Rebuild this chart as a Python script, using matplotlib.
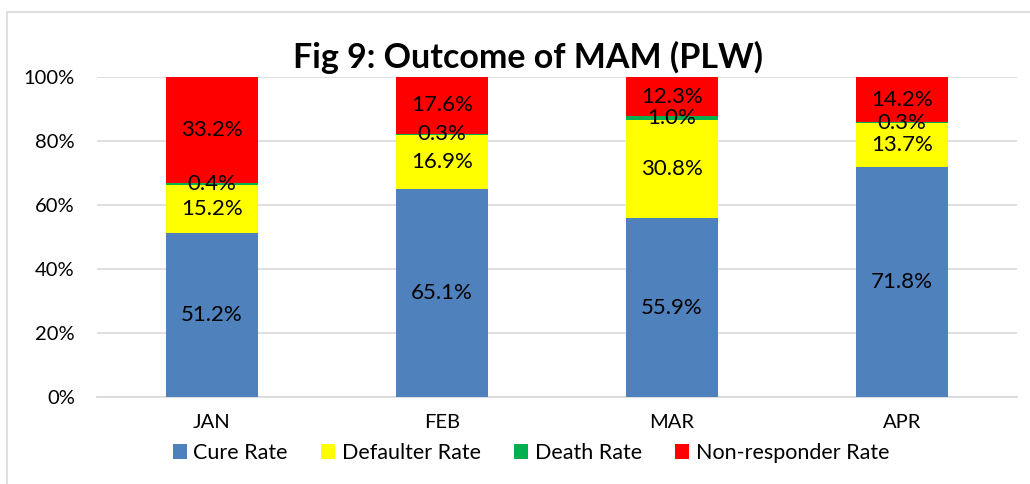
import matplotlib
matplotlib.use("Agg")
import matplotlib.pyplot as plt
from matplotlib.patches import Rectangle
from matplotlib.ticker import PercentFormatter
import numpy as np

months = ["JAN", "FEB", "MAR", "APR"]
cure_rate = [51.2, 65.1, 55.9, 71.8]
defaulter_rate = [15.2, 16.9, 30.8, 13.7]
death_rate = [0.4, 0.3, 1.0, 0.3]
nonresponder_rate = [33.2, 17.6, 12.3, 14.2]
series_names = ["Cure Rate", "Defaulter Rate", "Death Rate", "Non-responder Rate"]
series_colors = ["#4F81BD", "#FFFF00", "#00B050", "#FF0000"]
yticks = [0, 20, 40, 60, 80, 100]

plt.rcParams['font.family'] = ['Lato', 'DejaVu Sans']

fig = plt.figure(figsize=(10.3, 4.84), dpi=100)
fig.patches.append(Rectangle((7/1030, -0.1), 1.2, (484-12)/484 + 0.1,
                             transform=fig.transFigure, fill=False,
                             edgecolor="#d9d9d9", linewidth=1.2, zorder=0))
ax = fig.add_axes([97/1030, 87/484, 920/1030, 320/484])

x = np.arange(len(months))
bottom = np.zeros(len(months))
for vals, name, col in zip([cure_rate, defaulter_rate, death_rate, nonresponder_rate],
                           series_names, series_colors):
    vals = np.array(vals)
    ax.bar(x, vals, 0.4, bottom=bottom, color=col, label=name, zorder=3)
    for xi, b, v in zip(x, bottom, vals):
        ax.text(xi, b + v / 2, f"{v:.1f}%", ha="center", va="center",
                fontsize=16, color="#000000", zorder=4)
    bottom = bottom + vals

ax.set_xlim(-0.5, len(months) - 0.5)
ax.set_ylim(0, 100)
ax.set_yticks(yticks)
ax.yaxis.set_major_formatter(PercentFormatter(decimals=0))
ax.set_xticks(x)
ax.set_xticklabels(months)
ax.tick_params(axis="both", length=0, labelsize=14.5, colors="#000000")
ax.tick_params(axis="y", pad=16)
ax.tick_params(axis="x", pad=12)
ax.grid(axis="y", color="#d9d9d9", linewidth=1.2, zorder=0)
for s in ["top", "right", "left"]:
    ax.spines[s].set_visible(False)
ax.spines["bottom"].set_color("#d9d9d9")
ax.spines["bottom"].set_linewidth(1.2)

fig.text(528/1030, 1 - 57/484, "Fig 9: Outcome of MAM (PLW)", ha="center", va="center",
         fontsize=24.5, fontweight="bold")

fig.legend(loc="center", bbox_to_anchor=(531/1030, 1 - 453/484), ncol=4,
           frameon=False, fontsize=15.5, handlelength=0.65, handleheight=0.65,
           handletextpad=0.3, columnspacing=1.55)

fig.savefig("out.png", dpi=100)
